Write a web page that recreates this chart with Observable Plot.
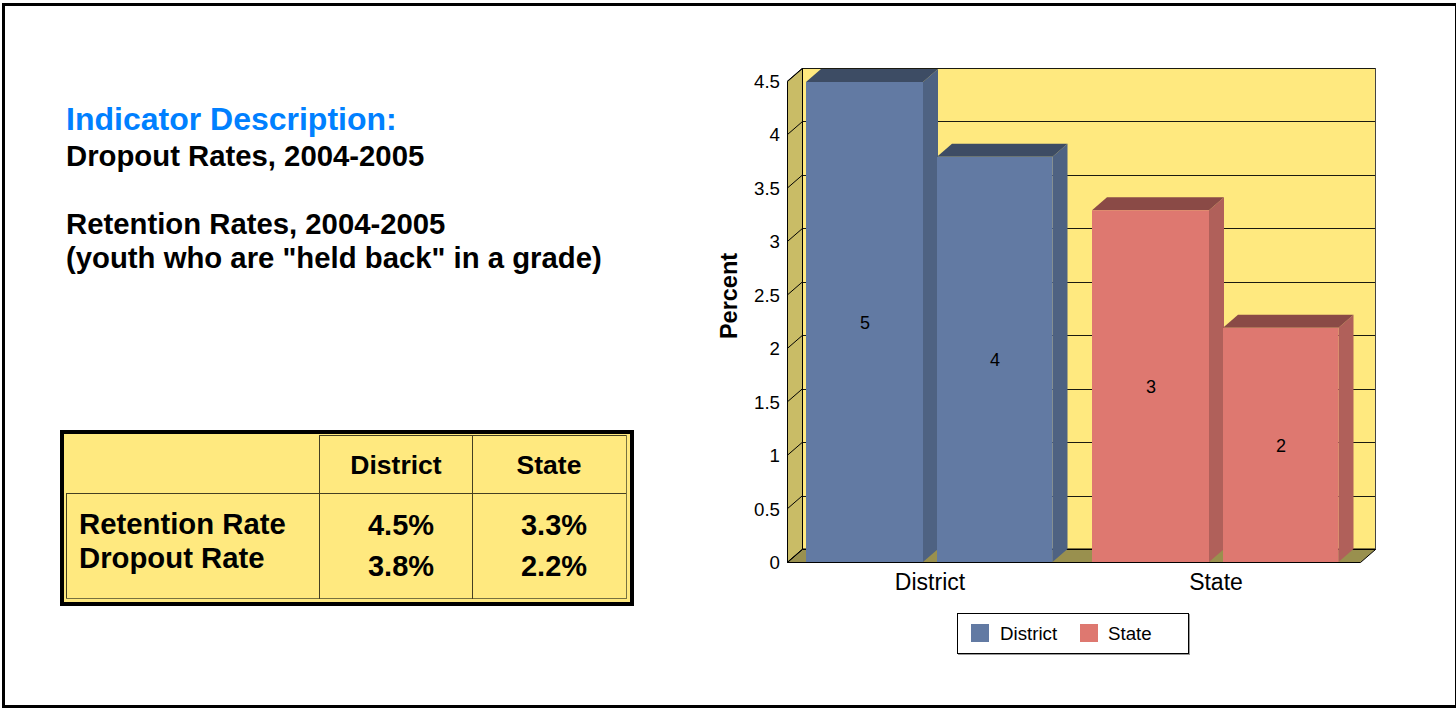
<!DOCTYPE html>
<html><head><meta charset="utf-8">
<script src="https://cdn.jsdelivr.net/npm/d3@7"></script>
<script src="https://cdn.jsdelivr.net/npm/@observablehq/plot@0.6"></script>
<style>
html,body{margin:0;padding:0;background:#fff;font-family:"Liberation Sans",Arial,sans-serif;color:#000;overflow:hidden}
#page{position:relative;width:1456px;height:708px;overflow:hidden}
#border{position:absolute;left:2px;top:3px;width:1450px;height:699px;border:3px solid #000;box-sizing:content-box;pointer-events:none}
.t{position:absolute;white-space:nowrap;font-weight:bold}
#chart{position:absolute;left:700px;top:0}
#legend{position:absolute;left:957px;top:613px;width:230px;height:39px;border:1px solid #000;background:#fff;box-shadow:1px 1px 0 #999;font-size:18.7px}
#legend i{position:absolute;top:10px;width:18px;height:18px}
#legend span{position:absolute;top:9px}
#tbl{position:absolute;left:60px;top:430px;width:566px;height:168px;border:4px solid #000;background:#ffe97f}
.ln{position:absolute;background:#443f22}
</style></head><body>
<div id="page">
<div id="border"></div>
<div id="desc"></div>
<div id="tbl"></div>
<div id="chart"></div>
<div id="legend"></div>
</div>
<script>
const groups = ["District", "State"];
const retentionRate = [4.5, 3.3];
const dropoutRate = [3.8, 2.2];
const barLabels = [[5, 3], [4, 2]];
const tickValues = [0, 0.5, 1, 1.5, 2, 2.5, 3, 3.5, 4, 4.5];
const groupColors = ["#627aa3", "#de7870"];
const sideColors = ["#4e6282", "#b0605a"];
const topColors = ["#3d4c64", "#8a4a46"];
const heading = "Indicator Description:";
const descLines = ["Dropout Rates, 2004-2005", "Retention Rates, 2004-2005", "(youth who are \"held back\" in a grade)"];
const rowNames = ["Retention Rate", "Dropout Rate"];

const DX = 15, DY = 13;
function face(kind) {
  return (index, scales, values, dims, ctx, next) => {
    const g = next(index, scales, values, dims, ctx);
    const nodes = g.tagName === "rect" ? [g] : [...g.querySelectorAll("rect")];
    let out = g;
    for (const r of nodes) {
      const x = +r.getAttribute("x"), y = +r.getAttribute("y"), w = +r.getAttribute("width"), h = +r.getAttribute("height");
      const pts = {
        top: [[x, y], [x + DX, y - DY], [x + w + DX, y - DY], [x + w, y]],
        right: [[x + w, y], [x + w + DX, y - DY], [x + w + DX, y + h - DY], [x + w, y + h]],
        left: [[x, y], [x + DX, y - DY], [x + DX, y + h - DY], [x, y + h]],
        floor: [[x, y + h], [x + DX, y + h - DY], [x + w + DX, y + h - DY], [x + w, y + h]]
      }[kind];
      const p = document.createElementNS("http://www.w3.org/2000/svg", "polygon");
      for (const a of r.attributes) if (!["x", "y", "width", "height"].includes(a.name)) p.setAttribute(a.name, a.value);
      p.setAttribute("points", pts.join(" "));
      if (r === g) out = p; else r.replaceWith(p);
    }
    return out;
  };
}
function diagonal(index, scales, values, dims, ctx, next) {
  const g = next(index, scales, values, dims, ctx);
  for (const l of g.querySelectorAll("line")) {
    const x = +l.getAttribute("x1"), y = +l.getAttribute("y1");
    l.setAttribute("x2", x + DX);
    l.setAttribute("y2", y - DY);
  }
  return g;
}

const rows = (vals, k) => groups.map((g, i) => ({group: g, i, value: vals[i], label: barLabels[k][i]}));
const retention = rows(retentionRate, 0), dropout = rows(dropoutRate, 1);
const insetA = {insetLeft: 18, insetRight: 151, insetTop: 1}, insetB = {insetLeft: 149, insetRight: 21.5, insetTop: 1};
const colorOf = a => d => a[d.i];
function bar3d(data, inset) {
  return [
    Plot.barY(data, {x: "group", y: "value", ...inset, fill: colorOf(sideColors), render: face("right")}),
    Plot.barY(data, {x: "group", y: "value", ...inset, fill: colorOf(topColors), render: face("top")}),
    Plot.barY(data, {x: "group", y: "value", ...inset, fill: colorOf(groupColors)})
  ];
}

const chart = Plot.plot({
  width: 756, height: 708,
  marginLeft: 87, marginRight: 96, marginTop: 81, marginBottom: 146,
  style: {background: "transparent", fontFamily: "'Liberation Sans',Arial,sans-serif", color: "#000", overflow: "visible"},
  x: {type: "band", domain: groups, padding: 0, label: null},
  y: {domain: [0, 4.5], label: null},
  marks: [
    Plot.frame({fill: "#ffe97f", stroke: "#444", dx: DX, dy: -DY}),
    Plot.ruleY(tickValues, {stroke: "#1a1a10", strokeWidth: 1, dx: DX, dy: -DY, shapeRendering: "crispEdges"}),
    Plot.ruleY([0], {stroke: "#000", strokeWidth: 2, dx: DX, dy: -DY}),
    Plot.frame({fill: "#c9bc66", stroke: "#000", render: face("left")}),
    Plot.frame({fill: "#99904e", stroke: "#000", render: face("floor")}),
    Plot.ruleY(tickValues, {stroke: "#000", render: diagonal}),
    ...bar3d(retention, insetA),
    ...bar3d(dropout, insetB),
    Plot.text(retention, {x: "group", y: d => d.value / 2, text: "label", dx: -66.5, dy: 1, fontSize: 18, fill: "#000"}),
    Plot.text(dropout, {x: "group", y: d => d.value / 2, text: "label", dx: 63.5, dy: 1, fontSize: 18, fill: "#000"}),
    Plot.axisY(tickValues, {tickSize: 0, tickPadding: 7.5, fontSize: 18.7, dy: 0.5, label: null, tickFormat: d => String(d)}),
    Plot.axisX({tickSize: 0, tickPadding: 11.5, fontSize: 23, dx: -1.5, label: null}),
    Plot.text(["Percent"], {frameAnchor: "left", textAnchor: "middle", rotate: -90, dx: -58, dy: -26, fontSize: 23.5, fontWeight: "bold", fill: "#000"})
  ]
});
document.getElementById("chart").appendChild(chart);

const legend = document.getElementById("legend");
[[13, 42], [122, 150]].forEach(([sx, tx], i) => {
  legend.insertAdjacentHTML("beforeend",
    `<i style="left:${sx}px;background:${groupColors[i]}"></i><span style="left:${tx}px">${groups[i]}</span>`);
});

const desc = document.getElementById("desc");
const put = (parent, text, left, top, size, extra = "") =>
  parent.insertAdjacentHTML("beforeend", `<div class="t" style="left:${left}px;top:${top}px;font-size:${size}px;line-height:1;${extra}">${text}</div>`);
put(desc, heading, 66, 103, 32, "color:#0080ff");
put(desc, descLines[0], 66, 141, 29.3);
put(desc, descLines[1], 66, 209, 29.3);
put(desc, descLines[2], 66, 243, 29.3);

const tbl = document.getElementById("tbl");
const line = (x, y, w, h, c) => tbl.insertAdjacentHTML("beforeend", `<div class="ln" style="left:${x - 64}px;top:${y - 434}px;width:${w}px;height:${h}px;${c ? "background:" + c : ""}"></div>`);
line(319, 435, 307, 1); line(66, 493, 560, 1); line(66, 493, 1, 106); line(66, 598, 560, 1, "#77713f");
line(319, 435, 1, 164); line(472, 435, 1, 164); line(626, 435, 1, 164, "#77713f");
const center = (text, cx, cy, size) => put(tbl, text, cx - 64, cy - 434 - size / 2, size, "transform:translateX(-50%)");
center(groups[0], 396, 465, 26.5); center(groups[1], 549, 465, 26.5);
put(tbl, rowNames[0], 79 - 64, 509 - 434, 29.3);
put(tbl, rowNames[1], 79 - 64, 543 - 434, 29.3);
center(retentionRate[0].toFixed(1) + "%", 401, 525, 29); center(retentionRate[1].toFixed(1) + "%", 554, 525, 29);
center(dropoutRate[0].toFixed(1) + "%", 401, 566, 29); center(dropoutRate[1].toFixed(1) + "%", 554, 566, 29);
</script>
</body></html>
